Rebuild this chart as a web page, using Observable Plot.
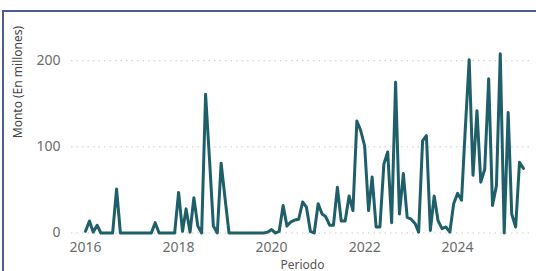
<!DOCTYPE html>
<html>
<head>
<meta charset="utf-8">
<script src="https://cdn.jsdelivr.net/npm/d3@7"></script>
<script src="https://cdn.jsdelivr.net/npm/@observablehq/plot@0.6"></script>
<style>
  html, body { margin: 0; padding: 0; background: #fff; overflow: hidden; }
  #card { position: absolute; left: 2px; top: 10px; width: 700px; height: 400px; border-top: 2px solid #4d5d8e; border-left: 2px solid #4d5d8e; box-sizing: border-box; }
  #chart { position: absolute; left: 0; top: 0; }
</style>
</head>
<body>
<div id="card"></div>
<div id="chart"></div>
<script>
// Monto mensual (en millones), enero 2016 – junio 2025
const v2016 = [2, 14, 1, 9, 0, 0, 0, 0, 51, 0, 0, 0];
const v2017 = [0, 0, 0, 0, 0, 0, 12, 0, 0, 0, 0, 0];
const v2018 = [47, 2, 28, 1, 41, 8, 0, 161, 85, 8, 0, 81];
const v2019 = [40, 0, 0, 0, 0, 0, 0, 0, 0, 0, 0, 1];
const v2020 = [4, 0, 2, 32, 8, 13, 15, 16, 36, 30, 2, 0];
const v2021 = [34, 22, 19, 9, 9, 53, 14, 14, 43, 26, 130, 119];
const v2022 = [101, 26, 65, 7, 7, 80, 94, 12, 175, 22, 69, 18];
const v2023 = [16, 11, 1, 107, 113, 3, 43, 14, 5, 7, 1, 34];
const v2024 = [46, 38, 120, 201, 67, 142, 59, 74, 179, 32, 55, 208];
const v2025 = [0, 140, 22, 7, 82, 75];

const years = [2016, 2017, 2018, 2019, 2020, 2021, 2022, 2023, 2024, 2025];
const valuesByYear = [v2016, v2017, v2018, v2019, v2020, v2021, v2022, v2023, v2024, v2025];

const xTickYears = [2016, 2018, 2020, 2022, 2024];
const yTicks = [0, 100, 200];
const yLabel = "Monto (En millones)";
const xLabel = "Periodo";

const data = [];
years.forEach((yr, i) => {
  valuesByYear[i].forEach((v, m) => data.push({fecha: new Date(Date.UTC(yr, m, 1)), monto: v}));
});

const chart = Plot.plot({
  width: 536,
  height: 271,
  marginLeft: 71,
  marginRight: 3,
  marginTop: 43,
  marginBottom: 38.5,
  style: {fontFamily: "'Noto Sans', sans-serif", fontSize: "14px", color: "#6b6b6b", background: "transparent", overflow: "visible"},
  x: {
    type: "utc",
    domain: [new Date(Date.UTC(2015, 8, 13)), new Date(Date.UTC(2025, 7, 19))],
    ticks: xTickYears.map(y => new Date(Date.UTC(y, 0, 1))),
    tickFormat: d3.utcFormat("%Y"),
    tickSize: 0,
    tickPadding: 9,
    label: null
  },
  y: {
    domain: [0, 220],
    ticks: yTicks,
    tickSize: 0,
    tickPadding: 11,
    label: null
  },
  marks: [
    Plot.ruleY(yTicks, {stroke: "#c8c8c8", strokeWidth: 1, strokeDasharray: "1.5,4"}),
    Plot.line(data, {x: "fecha", y: "monto", stroke: "#1f5f6a", strokeWidth: 3, strokeLinejoin: "round", strokeLinecap: "round"}),
    Plot.text([yLabel], {frameAnchor: "left", dx: -53, rotate: -90, fontSize: 12, fill: "#444", text: d => d}),
    Plot.text([xLabel], {frameAnchor: "bottom", dy: 35.5, fontSize: 12, fill: "#555", text: d => d})
  ]
});
document.getElementById("chart").appendChild(chart);
</script>
</body>
</html>
